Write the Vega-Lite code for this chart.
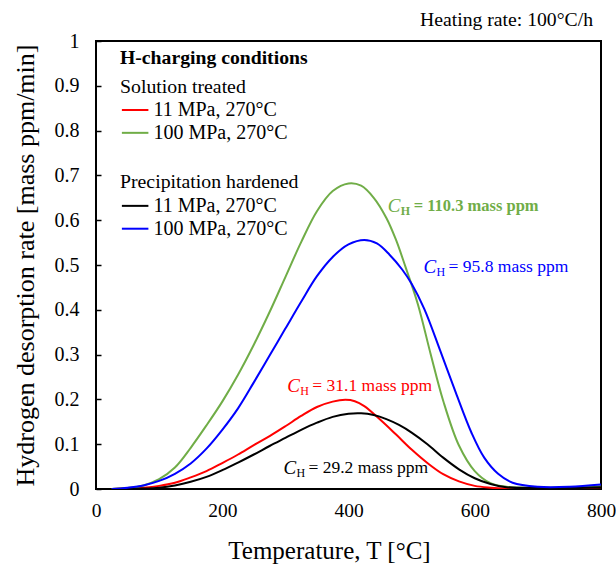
{
  "$schema": "https://vega.github.io/schema/vega-lite/v6.json",
  "width": 505,
  "height": 448,
  "autosize": "none",
  "padding": {"left": 96, "top": 41, "right": 15, "bottom": 78},
  "background": "white",
  "config": {
    "font": "Liberation Serif",
    "view": {"stroke": "black", "strokeWidth": 2},
    "text": {"font": "Liberation Serif"}
  },
  "title": {"text": "Heating rate: 100°C/h", "anchor": "end", "frame": "group", "fontSize": 19.7, "fontWeight": "normal", "offset": 1, "dx": -8, "color": "black", "font": "Liberation Serif"},
  "datasets": {
    "curves": [
      {"s": "ST11", "T": 25, "r": 0}, {"s": "ST11", "T": 50, "r": 0.001}, {"s": "ST11", "T": 75, "r": 0.003}, {"s": "ST11", "T": 100, "r": 0.007}, {"s": "ST11", "T": 125, "r": 0.014}, {"s": "ST11", "T": 150, "r": 0.026}, {"s": "ST11", "T": 175, "r": 0.04}, {"s": "ST11", "T": 200, "r": 0.058}, {"s": "ST11", "T": 225, "r": 0.077}, {"s": "ST11", "T": 250, "r": 0.098}, {"s": "ST11", "T": 275, "r": 0.118}, {"s": "ST11", "T": 300, "r": 0.14}, {"s": "ST11", "T": 325, "r": 0.163}, {"s": "ST11", "T": 350, "r": 0.183}, {"s": "ST11", "T": 375, "r": 0.195}, {"s": "ST11", "T": 395, "r": 0.199}, {"s": "ST11", "T": 410, "r": 0.196}, {"s": "ST11", "T": 425, "r": 0.185}, {"s": "ST11", "T": 450, "r": 0.155}, {"s": "ST11", "T": 475, "r": 0.122}, {"s": "ST11", "T": 500, "r": 0.088}, {"s": "ST11", "T": 525, "r": 0.058}, {"s": "ST11", "T": 550, "r": 0.033}, {"s": "ST11", "T": 575, "r": 0.017}, {"s": "ST11", "T": 600, "r": 0.007}, {"s": "ST11", "T": 625, "r": 0.003}, {"s": "ST11", "T": 650, "r": 0.001}, {"s": "ST11", "T": 700, "r": 0.001}, {"s": "ST11", "T": 750, "r": 0.002}, {"s": "ST11", "T": 800, "r": 0.004},
      {"s": "ST100", "T": 25, "r": 0}, {"s": "ST100", "T": 50, "r": 0.002}, {"s": "ST100", "T": 75, "r": 0.008}, {"s": "ST100", "T": 100, "r": 0.022}, {"s": "ST100", "T": 125, "r": 0.048}, {"s": "ST100", "T": 150, "r": 0.092}, {"s": "ST100", "T": 175, "r": 0.142}, {"s": "ST100", "T": 200, "r": 0.195}, {"s": "ST100", "T": 225, "r": 0.255}, {"s": "ST100", "T": 250, "r": 0.322}, {"s": "ST100", "T": 275, "r": 0.395}, {"s": "ST100", "T": 300, "r": 0.473}, {"s": "ST100", "T": 325, "r": 0.551}, {"s": "ST100", "T": 350, "r": 0.62}, {"s": "ST100", "T": 375, "r": 0.665}, {"s": "ST100", "T": 400, "r": 0.682}, {"s": "ST100", "T": 420, "r": 0.677}, {"s": "ST100", "T": 440, "r": 0.65}, {"s": "ST100", "T": 460, "r": 0.605}, {"s": "ST100", "T": 475, "r": 0.557}, {"s": "ST100", "T": 490, "r": 0.497}, {"s": "ST100", "T": 510, "r": 0.412}, {"s": "ST100", "T": 530, "r": 0.302}, {"s": "ST100", "T": 550, "r": 0.197}, {"s": "ST100", "T": 575, "r": 0.097}, {"s": "ST100", "T": 600, "r": 0.04}, {"s": "ST100", "T": 625, "r": 0.013}, {"s": "ST100", "T": 650, "r": 0.005}, {"s": "ST100", "T": 700, "r": 0.003}, {"s": "ST100", "T": 750, "r": 0.003}, {"s": "ST100", "T": 800, "r": 0.006},
      {"s": "PH11", "T": 25, "r": 0}, {"s": "PH11", "T": 50, "r": 0.0005}, {"s": "PH11", "T": 75, "r": 0.001}, {"s": "PH11", "T": 100, "r": 0.003}, {"s": "PH11", "T": 125, "r": 0.008}, {"s": "PH11", "T": 150, "r": 0.016}, {"s": "PH11", "T": 175, "r": 0.027}, {"s": "PH11", "T": 200, "r": 0.042}, {"s": "PH11", "T": 225, "r": 0.059}, {"s": "PH11", "T": 250, "r": 0.077}, {"s": "PH11", "T": 275, "r": 0.096}, {"s": "PH11", "T": 300, "r": 0.114}, {"s": "PH11", "T": 325, "r": 0.132}, {"s": "PH11", "T": 350, "r": 0.148}, {"s": "PH11", "T": 375, "r": 0.161}, {"s": "PH11", "T": 400, "r": 0.168}, {"s": "PH11", "T": 420, "r": 0.169}, {"s": "PH11", "T": 440, "r": 0.165}, {"s": "PH11", "T": 460, "r": 0.156}, {"s": "PH11", "T": 480, "r": 0.143}, {"s": "PH11", "T": 500, "r": 0.126}, {"s": "PH11", "T": 525, "r": 0.1}, {"s": "PH11", "T": 550, "r": 0.07}, {"s": "PH11", "T": 575, "r": 0.044}, {"s": "PH11", "T": 600, "r": 0.024}, {"s": "PH11", "T": 625, "r": 0.011}, {"s": "PH11", "T": 650, "r": 0.004}, {"s": "PH11", "T": 700, "r": 0.002}, {"s": "PH11", "T": 750, "r": 0.002}, {"s": "PH11", "T": 800, "r": 0.004},
      {"s": "PH100", "T": 25, "r": 0}, {"s": "PH100", "T": 50, "r": 0.003}, {"s": "PH100", "T": 75, "r": 0.008}, {"s": "PH100", "T": 100, "r": 0.018}, {"s": "PH100", "T": 125, "r": 0.034}, {"s": "PH100", "T": 150, "r": 0.057}, {"s": "PH100", "T": 175, "r": 0.09}, {"s": "PH100", "T": 200, "r": 0.132}, {"s": "PH100", "T": 225, "r": 0.18}, {"s": "PH100", "T": 250, "r": 0.238}, {"s": "PH100", "T": 275, "r": 0.298}, {"s": "PH100", "T": 300, "r": 0.358}, {"s": "PH100", "T": 325, "r": 0.418}, {"s": "PH100", "T": 350, "r": 0.475}, {"s": "PH100", "T": 375, "r": 0.518}, {"s": "PH100", "T": 400, "r": 0.546}, {"s": "PH100", "T": 425, "r": 0.556}, {"s": "PH100", "T": 445, "r": 0.548}, {"s": "PH100", "T": 465, "r": 0.523}, {"s": "PH100", "T": 485, "r": 0.49}, {"s": "PH100", "T": 500, "r": 0.458}, {"s": "PH100", "T": 520, "r": 0.402}, {"s": "PH100", "T": 545, "r": 0.31}, {"s": "PH100", "T": 570, "r": 0.215}, {"s": "PH100", "T": 595, "r": 0.125}, {"s": "PH100", "T": 615, "r": 0.07}, {"s": "PH100", "T": 637, "r": 0.034}, {"s": "PH100", "T": 660, "r": 0.014}, {"s": "PH100", "T": 700, "r": 0.005}, {"s": "PH100", "T": 750, "r": 0.005}, {"s": "PH100", "T": 800, "r": 0.01}
    ],
    "legend": [
      {"s": "ST11", "t0": 41, "t1": 83, "v": 0.846, "label": "11 MPa, 270°C"},
      {"s": "ST100", "t0": 41, "t1": 83, "v": 0.795, "label": "100 MPa, 270°C"},
      {"s": "PH11", "t0": 41, "t1": 83, "v": 0.632, "label": "11 MPa, 270°C"},
      {"s": "PH100", "t0": 41, "t1": 83, "v": 0.581, "label": "100 MPa, 270°C"}
    ],
    "headers": [
      {"t": 38, "v": 0.962, "label": "H-charging conditions", "kind": "main"},
      {"t": 38, "v": 0.897, "label": "Solution treated", "kind": "sub"},
      {"t": 38, "v": 0.685, "label": "Precipitation hardened", "kind": "sub"}
    ],
    "notes": [
      {"s": "ST100", "t": 462, "v": 0.632, "rest": "= 110.3 mass ppm"},
      {"s": "PH100", "t": 519, "v": 0.496, "rest": "= 95.8 mass ppm"},
      {"s": "ST11", "t": 303, "v": 0.23, "rest": "= 31.1 mass ppm"},
      {"s": "PH11", "t": 297, "v": 0.047, "rest": "= 29.2 mass ppm"}
    ]
  },
  "layer": [
    {
      "data": {"name": "curves"},
      "mark": {"type": "line", "strokeWidth": 2, "interpolate": "catmull-rom", "clip": true},
      "encoding": {
        "x": {"field": "T", "type": "quantitative", "scale": {"domain": [0, 800], "nice": false},
          "axis": {"title": "Temperature, T [°C]", "values": [0, 200, 400, 600, 800], "format": "d", "ticks": false, "grid": false, "domain": false, "labelFontSize": 19.5, "labelColor": "black", "labelPadding": 12, "labelFlush": false, "labelOverlap": false, "titleFontSize": 25, "titleFontWeight": "normal", "titleColor": "black", "titlePadding": 19, "titleX": 233, "titleAlign": "center", "titleAnchor": null}},
        "y": {"field": "r", "type": "quantitative", "scale": {"domain": [0, 1], "nice": false},
          "axis": {"title": "Hydrogen desorption rate [mass ppm/min]", "values": [0, 0.05, 0.1, 0.15, 0.2, 0.25, 0.3, 0.35, 0.4, 0.45, 0.5, 0.55, 0.6, 0.65, 0.7, 0.75, 0.8, 0.85, 0.9, 0.95, 1], "labelExpr": "round(datum.value*20) % 2 == 0 ? format(datum.value, '.1~f') : ''", "tickSize": -5, "tickWidth": 1.5, "tickColor": "black", "grid": false, "domain": false, "labelFontSize": 20, "labelColor": "black", "labelPadding": 22, "labelFlush": false, "labelOverlap": false, "titleFontSize": 26, "titleFontWeight": "normal", "titleColor": "black", "titlePadding": 16}},
        "color": {"field": "s", "type": "nominal", "scale": {"domain": ["ST11", "ST100", "PH11", "PH100"], "range": ["#FF0000", "#70AD47", "#000000", "#0000FF"]}, "legend": null},
        "order": {"field": "T", "type": "quantitative"}
      }
    },
    {
      "data": {"name": "legend"},
      "mark": {"type": "rule", "strokeWidth": 2},
      "encoding": {
        "x": {"field": "t0", "type": "quantitative"},
        "x2": {"field": "t1"},
        "y": {"field": "v", "type": "quantitative"},
        "color": {"field": "s", "type": "nominal", "legend": null}
      }
    },
    {
      "data": {"name": "legend"},
      "mark": {"type": "text", "align": "left", "baseline": "middle", "dx": 5, "fontSize": 20, "color": "black"},
      "encoding": {
        "x": {"field": "t1", "type": "quantitative"},
        "y": {"field": "v", "type": "quantitative"},
        "text": {"field": "label"}
      }
    },
    {
      "data": {"name": "headers"},
      "transform": [{"filter": "datum.kind == 'main'"}],
      "mark": {"type": "text", "align": "left", "baseline": "middle", "fontSize": 19.7, "fontWeight": "bold", "color": "black"},
      "encoding": {
        "x": {"field": "t", "type": "quantitative"},
        "y": {"field": "v", "type": "quantitative"},
        "text": {"field": "label"}
      }
    },
    {
      "data": {"name": "headers"},
      "transform": [{"filter": "datum.kind == 'sub'"}],
      "mark": {"type": "text", "align": "left", "baseline": "middle", "fontSize": 19.8, "color": "black"},
      "encoding": {
        "x": {"field": "t", "type": "quantitative"},
        "y": {"field": "v", "type": "quantitative"},
        "text": {"field": "label"}
      }
    },
    {
      "data": {"name": "notes"},
      "mark": {"type": "text", "align": "left", "baseline": "middle", "fontSize": 19, "fontStyle": "italic"},
      "encoding": {
        "x": {"field": "t", "type": "quantitative"},
        "y": {"field": "v", "type": "quantitative"},
        "text": {"value": "C"},
        "color": {"field": "s", "type": "nominal", "legend": null}
      }
    },
    {
      "data": {"name": "notes"},
      "transform": [{"filter": "datum.s == 'ST100'"}],
      "mark": {"type": "text", "align": "left", "baseline": "middle", "fontSize": 12, "fontWeight": "bold", "dx": 13, "dy": 5},
      "encoding": {
        "x": {"field": "t", "type": "quantitative"},
        "y": {"field": "v", "type": "quantitative"},
        "text": {"value": "H"},
        "color": {"field": "s", "type": "nominal", "legend": null}
      }
    },
    {
      "data": {"name": "notes"},
      "transform": [{"filter": "datum.s != 'ST100'"}],
      "mark": {"type": "text", "align": "left", "baseline": "middle", "fontSize": 12, "dx": 13, "dy": 5},
      "encoding": {
        "x": {"field": "t", "type": "quantitative"},
        "y": {"field": "v", "type": "quantitative"},
        "text": {"value": "H"},
        "color": {"field": "s", "type": "nominal", "legend": null}
      }
    },
    {
      "data": {"name": "notes"},
      "transform": [{"filter": "datum.s == 'ST100'"}],
      "mark": {"type": "text", "align": "left", "baseline": "middle", "fontSize": 16.5, "fontWeight": "bold", "dx": 26},
      "encoding": {
        "x": {"field": "t", "type": "quantitative"},
        "y": {"field": "v", "type": "quantitative"},
        "text": {"field": "rest"},
        "color": {"field": "s", "type": "nominal", "legend": null}
      }
    },
    {
      "data": {"name": "notes"},
      "transform": [{"filter": "datum.s != 'ST100'"}],
      "mark": {"type": "text", "align": "left", "baseline": "middle", "fontSize": 17.5, "dx": 25},
      "encoding": {
        "x": {"field": "t", "type": "quantitative"},
        "y": {"field": "v", "type": "quantitative"},
        "text": {"field": "rest"},
        "color": {"field": "s", "type": "nominal", "legend": null}
      }
    }
  ]
}
